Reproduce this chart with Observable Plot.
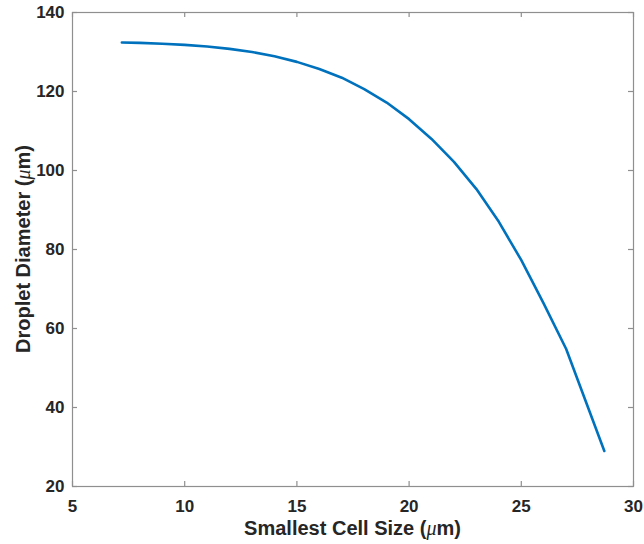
<!DOCTYPE html>
<html>
<head>
<meta charset="utf-8">
<script src="https://cdn.jsdelivr.net/npm/d3@7"></script>
<script src="https://cdn.jsdelivr.net/npm/@observablehq/plot@0.6"></script>
<style>
  html, body { margin: 0; padding: 0; background: #fff; }
  #chart { width: 644px; height: 544px; }
</style>
</head>
<body>
<div id="chart"></div>
<script>
// Smallest mesh cell size (µm) vs. resulting droplet diameter (µm)
const cellSize = [7.2, 8, 9, 10, 11, 12, 13, 14, 15, 16, 17, 18, 19, 20, 21, 22, 23, 24, 25, 26, 27, 28.7];
const diameter = [132.4, 132.3, 132.1, 131.8, 131.4, 130.8, 130.0, 128.9, 127.5, 125.7, 123.5, 120.6, 117.2, 113.0, 108.0, 102.2, 95.3, 87.0, 77.3, 66.3, 54.8, 29.0];

const xTicks = [5, 10, 15, 20, 25, 30];
const yTicks = [20, 40, 60, 80, 100, 120, 140];

const xLabel = ["Smallest Cell Size (", "\u03bc", "m)"];
const yLabel = ["Droplet Diameter (", "\u03bc", "m)"];

const data = cellSize.map((x, i) => ({x, y: diameter[i]}));

const W = 644, H = 544;
const mL = 72, mT = 12, mR = 11, mB = 58;
const innerH = H - mT - mB;
const innerW = W - mL - mR;
const tick = 5;
const boxColor = "#8f8f8f";
const textColor = "#262626";

const chart = Plot.plot({
  width: W,
  height: H,
  marginLeft: mL,
  marginTop: mT,
  marginRight: mR,
  marginBottom: mB,
  x: {domain: [5, 30]},
  y: {domain: [20, 140]},
  style: {
    fontFamily: "'Liberation Sans', Arial, sans-serif",
    fontSize: "17px",
    fontWeight: "bold",
    color: textColor,
    background: "#fff"
  },
  marks: [
    Plot.frame({stroke: boxColor, strokeWidth: 1.2}),
    // inward ticks on all four sides
    Plot.tickX(xTicks, {x: d => d, insetTop: innerH - tick, stroke: boxColor, strokeWidth: 1.2}),
    Plot.tickX(xTicks, {x: d => d, insetBottom: innerH - tick, stroke: boxColor, strokeWidth: 1.2}),
    Plot.tickY(yTicks, {y: d => d, insetRight: innerW - tick, stroke: boxColor, strokeWidth: 1.2}),
    Plot.tickY(yTicks, {y: d => d, insetLeft: innerW - tick, stroke: boxColor, strokeWidth: 1.2}),
    Plot.axisX(xTicks, {tickSize: 0, tickPadding: 13, label: null, fill: textColor}),
    Plot.axisY(yTicks, {tickSize: 0, tickPadding: 8, label: null, fill: textColor}),
    Plot.line(data, {x: "x", y: "y", stroke: "#0072BD", strokeWidth: 2.6, curve: "linear"})
  ]
});

const svg = d3.select(chart);

function addLabel(parts, x, y, rotate) {
  const t = svg.append("text")
    .attr("transform", `translate(${x},${y})` + (rotate ? ` rotate(${rotate})` : ""))
    .attr("text-anchor", "middle")
    .attr("fill", textColor)
    .style("font-family", "'Liberation Sans', Arial, sans-serif")
    .style("font-size", "20px")
    .style("font-weight", "bold");
  parts.forEach((p, i) => {
    const s = t.append("tspan").text(p);
    if (i === 1) {
      s.style("font-family", "'Liberation Serif', 'DejaVu Serif', serif")
       .style("font-style", "italic")
       .style("font-weight", "normal");
    }
  });
}

addLabel(xLabel, mL + innerW / 2, 535, 0);
addLabel(yLabel, 30, mT + innerH / 2, -90);

document.getElementById("chart").appendChild(chart);
</script>
</body>
</html>
